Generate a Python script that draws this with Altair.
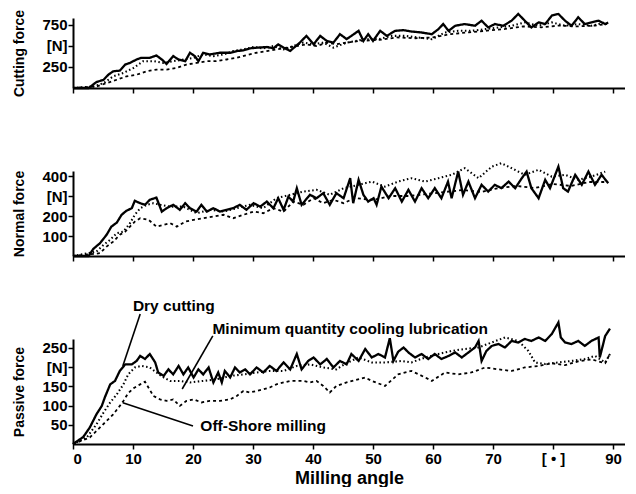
import altair as alt
import pandas as pd

FONT = "Liberation Sans"
SERIES = ["Dry cutting", "Minimum quantity cooling lubrication", "Off-Shore milling"]
ANGLE_TICKS = [0, 10, 20, 30, 40, 50, 60, 70, 80, 90]

# ---- Cutting force [N] : (milling angle, force) ----
CUT_DRY = [(0, 0), (2.6, 0), (3.9, 70), (5.1, 98), (5.9, 158), (6.7, 198), (7.8, 206), (8.7, 278),
           (9.5, 298), (10.6, 338), (11.4, 358), (12.8, 358), (13.9, 386), (14.8, 338), (15.6, 285),
           (16.7, 378), (17.6, 338), (18.7, 318), (19.5, 418), (20.3, 378), (20.9, 318), (21.7, 418),
           (22.8, 398), (24.5, 418), (26.2, 418), (27.3, 438), (28.4, 446), (29.5, 470), (30.6, 478),
           (32.3, 486), (33.4, 470), (34.2, 518), (35.1, 478), (36.2, 440), (37.8, 538), (38.9, 618),
           (40.1, 518), (41.2, 618), (42.3, 558), (43.4, 538), (44.5, 638), (45.6, 580), (46.4, 618),
           (47.6, 678), (48.4, 558), (49.2, 638), (50.0, 558), (51.2, 678), (52.3, 618), (53.7, 678),
           (55.1, 686), (56.4, 670), (58.1, 658), (59.8, 638), (60.9, 698), (61.7, 758), (62.6, 678),
           (63.7, 738), (65.3, 758), (67.0, 738), (68.1, 798), (69.2, 718), (70.3, 758), (71.7, 738),
           (73.1, 798), (74.2, 878), (75.3, 798), (76.4, 718), (77.6, 778), (78.7, 758), (79.8, 858),
           (80.9, 878), (82.0, 798), (83.1, 738), (84.2, 838), (85.3, 758), (86.4, 778), (87.6, 798),
           (88.7, 758), (89.2, 778)]
CUT_MQL = [(0, 0), (3.4, 18), (5.1, 58), (6.7, 138), (8.4, 178), (10.1, 238), (11.7, 318), (13.4, 318),
           (15.1, 298), (16.7, 318), (18.4, 338), (20.1, 358), (21.7, 398), (23.4, 378), (25.1, 398),
           (26.7, 438), (28.4, 458), (30.1, 486), (31.7, 470), (33.4, 498), (35.1, 458), (36.7, 498),
           (38.4, 538), (40.1, 518), (41.7, 538), (43.4, 478), (45.6, 538), (48.7, 578), (50.9, 578),
           (53.1, 618), (55.3, 618), (57.6, 598), (59.8, 578), (62.0, 658), (64.2, 678), (66.4, 678),
           (68.7, 698), (70.9, 718), (73.1, 738), (75.3, 778), (77.6, 738), (79.8, 778), (82.0, 738),
           (84.2, 758), (86.4, 738), (88.7, 778)]
CUT_OFF = [(0, 0), (3.9, 18), (5.6, 58), (7.3, 98), (8.9, 138), (10.6, 158), (12.3, 198), (13.9, 218),
           (15.6, 218), (17.3, 238), (18.9, 278), (20.6, 298), (22.3, 318), (23.9, 318), (25.6, 338),
           (27.3, 358), (28.9, 390), (30.6, 418), (32.3, 438), (33.9, 458), (35.6, 478), (37.3, 498),
           (38.9, 518), (40.6, 498), (42.3, 538), (43.9, 518), (45.6, 538), (48, 560), (51, 570),
           (54, 600), (57, 590), (60, 600), (63, 640), (66, 660), (69, 680), (72, 700), (75, 730),
           (78, 720), (81, 740), (84, 730), (87, 740), (89, 760)]

# ---- Normal force [N] ----
NOR_DRY = [(0, 0), (2.6, 0), (3.4, 36), (4.5, 64), (5.6, 106), (6.4, 147), (7.3, 167), (8.1, 206),
           (8.9, 226), (9.8, 239), (10.3, 276), (11.2, 264), (12.0, 256), (12.8, 281), (13.9, 292),
           (14.8, 222), (15.6, 239), (16.7, 256), (17.8, 231), (18.7, 264), (19.5, 239), (20.6, 222),
           (21.4, 256), (22.3, 222), (23.4, 239), (24.5, 222), (25.6, 231), (26.7, 239), (27.8, 256),
           (28.9, 231), (30.1, 264), (31.2, 247), (32.3, 272), (33.4, 239), (34.2, 289), (35.1, 231),
           (35.9, 297), (36.7, 272), (37.3, 339), (38.1, 256), (39.5, 306), (40.6, 289), (41.7, 314),
           (42.8, 256), (43.9, 314), (45.1, 289), (46.2, 389), (46.7, 264), (47.6, 381), (48.4, 306),
           (49.2, 272), (50.1, 289), (50.6, 256), (51.4, 347), (52.6, 289), (53.7, 339), (54.8, 272),
           (55.9, 331), (57.0, 272), (58.1, 339), (59.2, 289), (60.3, 339), (61.4, 289), (62.5, 372),
           (63.1, 289), (64.2, 422), (65.0, 306), (65.9, 372), (67.0, 289), (68.1, 356), (69.2, 322),
           (70.3, 356), (71.4, 339), (72.6, 372), (73.7, 339), (74.8, 389), (75.6, 422), (76.4, 339),
           (77.6, 289), (78.7, 381), (79.5, 339), (80.9, 447), (81.7, 339), (82.5, 322), (83.7, 406),
           (84.8, 356), (85.9, 422), (87.0, 356), (88.1, 406), (89.2, 364)]
NOR_MQL = [(0, 0), (3.9, 22), (5.1, 56), (6.2, 81), (7.3, 114), (8.4, 122), (9.5, 164), (10.3, 206),
           (11.2, 239), (12.3, 256), (13.4, 264), (14.5, 256), (16.2, 247), (18.4, 247), (20.6, 214),
           (22.8, 231), (25.1, 222), (27.3, 239), (29.5, 256), (31.7, 239), (33.9, 289), (36.2, 306),
           (38.4, 322), (40.6, 331), (42.8, 306), (45.1, 339), (47.6, 356), (49.8, 372), (52.0, 347),
           (54.2, 372), (56.4, 389), (58.7, 372), (60.9, 389), (63.1, 406), (65.3, 439), (67.6, 389),
           (69.8, 447), (71.4, 464), (73.1, 439), (75.3, 406), (77.6, 431), (79.8, 397), (82.0, 406),
           (84.2, 381), (86.4, 397), (88.7, 422)]
NOR_OFF = [(0, 0), (4.5, 14), (5.6, 47), (6.7, 72), (7.8, 106), (8.7, 122), (9.5, 147), (10.3, 172),
           (11.2, 189), (12.6, 181), (13.9, 147), (15.1, 156), (16.2, 164), (17.3, 147), (18.7, 172),
           (20.1, 181), (21.7, 189), (23.4, 197), (25.1, 206), (26.7, 189), (28.4, 206), (30.1, 222),
           (31.7, 214), (33.4, 239), (35.1, 222), (36.7, 272), (38.4, 256), (40.1, 289), (41.7, 264),
           (43.4, 281), (45.1, 264), (47, 290), (50, 280), (53, 300), (56, 300), (59, 310), (62, 320),
           (65, 330), (68, 320), (71, 340), (74, 350), (77, 340), (80, 360), (83, 350), (86, 370),
           (89, 370)]

# ---- Passive force [N] ----
PAS_DRY = [(0, 0), (1.7, 18), (2.8, 43), (3.9, 77), (4.8, 99), (5.3, 121), (6.2, 155), (7.0, 164),
           (7.8, 190), (8.7, 207), (9.8, 207), (10.6, 216), (11.2, 229), (12.0, 221), (12.8, 234),
           (13.7, 212), (14.2, 186), (15.1, 177), (15.9, 194), (16.7, 181), (17.6, 203), (18.4, 181),
           (19.2, 199), (20.1, 173), (20.9, 194), (21.7, 181), (22.6, 199), (23.4, 160), (24.2, 186),
           (24.8, 160), (25.3, 190), (26.2, 173), (27.0, 199), (27.8, 186), (28.7, 194), (29.5, 181),
           (30.6, 199), (31.7, 186), (32.8, 203), (33.9, 190), (35.1, 212), (36.2, 194), (37.3, 234),
           (38.1, 194), (39.2, 216), (40.1, 225), (41.2, 207), (42.3, 221), (43.4, 199), (44.5, 216),
           (45.6, 207), (46.4, 234), (47.6, 216), (48.7, 247), (49.8, 225), (50.9, 234), (52.0, 225),
           (52.8, 275), (53.4, 216), (54.2, 240), (55.1, 251), (55.9, 238), (57.0, 225), (58.1, 234),
           (59.2, 221), (60.3, 234), (61.4, 221), (62.6, 229), (63.7, 238), (64.8, 225), (65.9, 238),
           (67.0, 251), (67.6, 268), (68.1, 216), (68.9, 242), (69.8, 255), (70.9, 260), (72.0, 251),
           (73.1, 268), (74.2, 264), (75.3, 273), (76.4, 268), (77.6, 277), (78.7, 268), (79.8, 286),
           (80.9, 316), (81.3, 277), (82.0, 264), (83.1, 260), (84.2, 268), (85.3, 255), (86.4, 268),
           (87.6, 277), (87.8, 225), (88.7, 281), (89.5, 300)]
PAS_MQL = [(0, 0), (2.3, 17), (3.9, 51), (5.1, 82), (6.2, 108), (7.3, 129), (8.4, 155), (9.2, 181),
           (10.3, 199), (11.4, 203), (12.8, 199), (13.9, 186), (15.1, 173), (16.2, 164), (17.8, 164),
           (19.5, 160), (21.7, 164), (23.9, 168), (26.2, 177), (28.4, 181), (30.6, 186), (32.8, 190),
           (35.1, 190), (37.3, 203), (39.5, 207), (41.7, 199), (43.9, 194), (45.3, 208), (47.6, 225),
           (49.8, 212), (52.0, 212), (54.8, 216), (56.4, 212), (58.7, 225), (60.9, 234), (63.1, 242),
           (65.3, 247), (67.6, 251), (69.8, 264), (72.0, 277), (74.2, 268), (75.9, 242), (77.0, 212),
           (78.7, 208), (80.9, 212), (83.1, 216), (85.3, 221), (87.0, 229), (88.7, 212), (89.5, 234)]
PAS_OFF = [(0, 0), (2.8, 17), (4.5, 43), (5.6, 60), (6.7, 77), (7.8, 99), (8.4, 112), (9.2, 132),
           (10.1, 145), (11.2, 155), (12.0, 162), (13.4, 125), (14.5, 116), (15.6, 112), (16.7, 116),
           (17.8, 99), (18.9, 112), (20.1, 116), (21.4, 108), (22.8, 112), (24.5, 112), (26.2, 116),
           (27.3, 125), (28.4, 138), (29.5, 134), (30.6, 138), (31.7, 142), (32.8, 147), (33.9, 155),
           (35.1, 160), (36.2, 164), (37.3, 164), (38.4, 164), (39.5, 160), (40.6, 164), (41.7, 151),
           (42.8, 134), (43.9, 151), (45.6, 160), (48.7, 173), (49.8, 164), (52.0, 151), (54.2, 181),
           (56.4, 190), (58.7, 173), (59.8, 164), (62.0, 186), (64.2, 181), (66.4, 186), (68.7, 199),
           (70.9, 194), (73.1, 190), (75.3, 199), (77.6, 203), (79.8, 210), (82.0, 205), (84.2, 215),
           (86.4, 220), (88.7, 210), (89.5, 235)]

# ---- Annotations in the passive-force panel (data units) ----
ANNOT_TEXT = ["Dry cutting", "Minimum quantity cooling lubrication", "Off-Shore milling"]
ANNOT_ANGLE = [16.8, 46.2, 31.7]
ANNOT_FORCE = [359, 299, 47]
POINTER_FROM_ANGLE = [11.2, 23.3, 20.0]
POINTER_FROM_FORCE = [338, 281, 47]
POINTER_TO_ANGLE = [8.3, 18.2, 8.3]
POINTER_TO_FORCE = [203, 143, 107]


def frame(series_points):
    rows = []
    for name, pts in zip(SERIES, series_points):
        for a, f in pts:
            rows.append({"series": name, "angle": a, "force": f})
    return pd.DataFrame(rows)


x_scale = alt.Scale(domain=[0, 92], nice=False, zero=False)
dash = alt.StrokeDash("series:N", legend=None,
                      scale=alt.Scale(domain=SERIES, range=[[1, 0], [1.5, 2.5], [3, 3]]))
width_enc = alt.StrokeWidth("series:N", legend=None,
                            scale=alt.Scale(domain=SERIES, range=[2.3, 1.8, 1.6]))


def encodings(ymax, title, yticks, nvalue, bottom):
    if bottom:
        x_axis = alt.Axis(values=ANGLE_TICKS, title="Milling angle",
                          labelExpr="datum.value == 80 ? '[ \u2022 ]' : datum.label")
    else:
        x_axis = alt.Axis(values=ANGLE_TICKS, labels=False, title=None)
    y_axis = alt.Axis(values=yticks, title=title, titleX=-47, titleBaseline="bottom",
                      labelOverlap=False,
                      labelExpr=f"datum.value == {nvalue} ? '[N]' : datum.label")
    x = alt.X("angle:Q", scale=x_scale, axis=x_axis)
    y = alt.Y("force:Q", scale=alt.Scale(domain=[0, ymax], nice=False), axis=y_axis)
    return x, y


def line_layer(df, x, y):
    return alt.Chart(df).mark_line(color="black", clip=False).encode(
        x=x, y=y, strokeDash=dash, strokeWidth=width_enc
    )


xt, yt = encodings(830, "Cutting force", [250, 500, 750], 500, False)
top = line_layer(frame([CUT_DRY, CUT_MQL, CUT_OFF]), xt, yt).properties(width=552, height=70)

xm, ym = encodings(425, "Normal force", [100, 200, 300, 400], 300, False)
mid = line_layer(frame([NOR_DRY, NOR_MQL, NOR_OFF]), xm, ym).properties(width=552, height=85)

xb, yb = encodings(273, "Passive force", [50, 100, 150, 200, 250], 200, True)
annot = pd.DataFrame({"label": ANNOT_TEXT, "angle": ANNOT_ANGLE, "force": ANNOT_FORCE})
pointers = pd.DataFrame({"angle": POINTER_FROM_ANGLE, "force": POINTER_FROM_FORCE,
                         "angle2": POINTER_TO_ANGLE, "force2": POINTER_TO_FORCE})

bot_lines = line_layer(frame([PAS_DRY, PAS_MQL, PAS_OFF]), xb, yb)
pointer_layer = alt.Chart(pointers).mark_rule(color="black", strokeWidth=1.6, clip=False).encode(
    x=xb, y=yb, x2="angle2:Q", y2="force2:Q"
)
text_layer = alt.Chart(annot).mark_text(font=FONT, fontSize=15.5, fontWeight="bold", color="black",
                                        align="center", baseline="middle", clip=False).encode(
    x=xb, y=yb, text="label:N"
)
bot = alt.layer(bot_lines, pointer_layer, text_layer).properties(width=552, height=105)

chart = alt.vconcat(top, mid, bot, spacing=83, bounds="flush").properties(
    padding={"left": 3, "top": 1, "right": 0, "bottom": 0}
).configure_view(strokeWidth=0).configure_axis(
    domainColor="black", domainWidth=2, tickColor="black", tickWidth=1.5, tickSize=5,
    labelFont=FONT, labelFontSize=15, labelFontWeight="bold", labelColor="black",
    titleFont=FONT, titleFontWeight="bold", titleColor="black", grid=False
).configure_axisX(labelPadding=2, titleFontSize=18, titlePadding=3
).configure_axisY(labelPadding=1, titleFontSize=14, labelOverlap=False)

chart.save("out.html", embed_options={"renderer": "svg", "actions": False})
